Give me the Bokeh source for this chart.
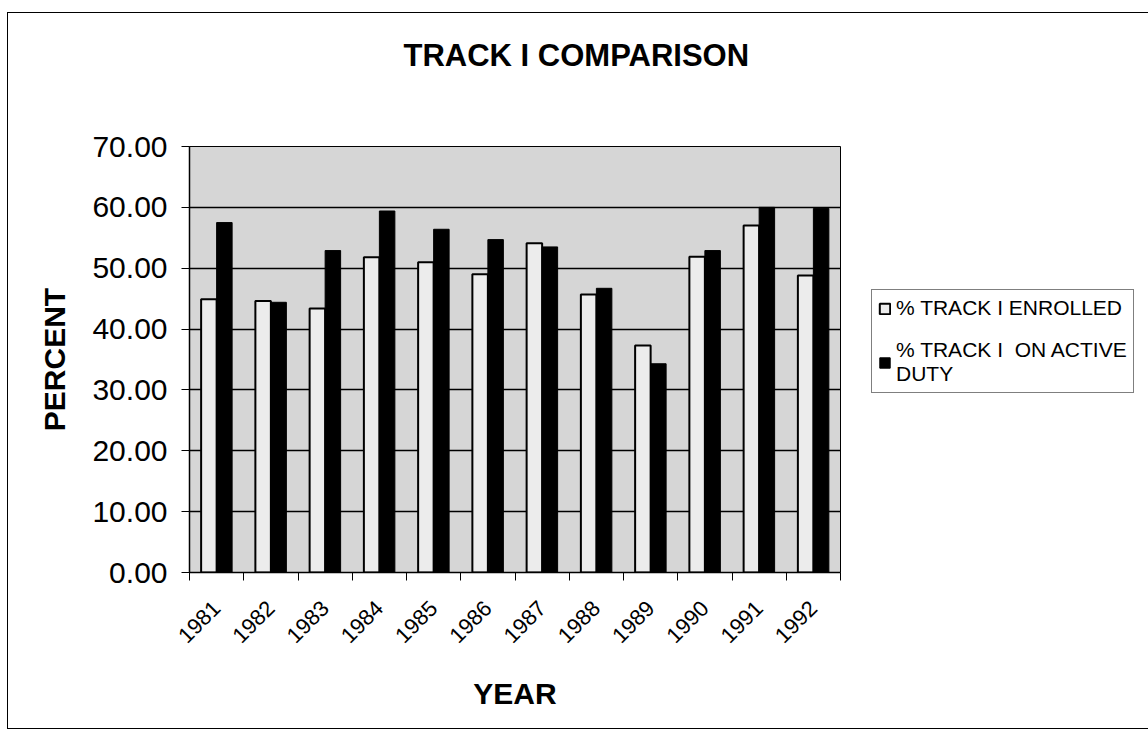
import numpy as np
from math import pi
from bokeh.plotting import figure
from bokeh.models import (ColumnDataSource, Range1d, FixedTicker, NumeralTickFormatter,
                          Legend, LegendItem, Title)
from bokeh.embed import file_html
from bokeh.resources import INLINE

# ---- data ----
years = ["1981", "1982", "1983", "1984", "1985", "1986",
         "1987", "1988", "1989", "1990", "1991", "1992"]
enrolled = [44.9, 44.6, 43.4, 51.8, 51.0, 49.0, 54.1, 45.7, 37.3, 51.9, 57.0, 48.8]
active = [57.5, 44.4, 52.9, 59.4, 56.4, 54.7, 53.5, 46.7, 34.3, 52.9, 60.0, 59.8]
y_ticks = [0, 10, 20, 30, 40, 50, 60, 70]
series_names = ["% TRACK I ENROLLED", "% TRACK I  ON ACTIVE\nDUTY"]
title_text = "TRACK I COMPARISON"
x_title = "YEAR"
y_title = "PERCENT"

FONT = "Liberation Sans"

n = len(years)
centers = [i + 0.5 for i in range(n)]
bw = 0.2857
src = ColumnDataSource(dict(
    xe=[c - bw / 2 for c in centers],
    xa=[c + bw / 2 for c in centers],
    enrolled=enrolled,
    active=active,
))

p = figure(frame_width=651, frame_height=426, x_range=Range1d(0, n), y_range=Range1d(0, 70),
           output_backend="svg", toolbar_location=None, title=None,
           min_border_left=181, min_border_right=306,
           min_border_top=132, min_border_bottom=156)
p.styles = {"margin-left": "7px", "margin-top": "12px", "border": "1px solid black"}

p.background_fill_color = "#d6d6d6"
p.border_fill_color = "white"
p.outline_line_color = "black"
p.outline_line_width = 1

r1 = p.vbar(x="xe", top="enrolled", width=bw, source=src,
            fill_color="#ececec", line_color="black", line_width=2)
r2 = p.vbar(x="xa", top="active", width=bw, source=src,
            fill_color="black", line_color="black", line_width=1)

# x axis
xa = p.xaxis[0]
xa.ticker = FixedTicker(ticks=centers, minor_ticks=list(range(n + 1)))
xa.major_label_overrides = {c: y for c, y in zip(centers, years)}
xa.major_tick_out = 0
xa.major_tick_in = 0
xa.minor_tick_out = 8
xa.minor_tick_in = 0
xa.minor_tick_line_color = "black"
xa.axis_line_color = "black"
xa.axis_line_width = 1.5
xa.major_label_orientation = pi / 4
xa.major_label_text_font = FONT
xa.major_label_text_font_size = "22px"
xa.major_label_text_color = "black"
xa.major_label_standoff = 24
xa.axis_label = x_title
xa.axis_label_text_font = FONT
xa.axis_label_text_font_size = "30px"
xa.axis_label_text_font_style = "bold"
xa.axis_label_text_color = "black"
xa.axis_label_standoff = 24

# y axis
ya = p.yaxis[0]
ya.ticker = FixedTicker(ticks=y_ticks)
ya.formatter = NumeralTickFormatter(format="0.00")
ya.major_tick_out = 8
ya.major_tick_in = 0
ya.minor_tick_out = 0
ya.minor_tick_in = 0
ya.major_tick_line_color = "black"
ya.axis_line_color = "black"
ya.axis_line_width = 1.5
ya.major_label_text_font = FONT
ya.major_label_text_font_size = "30px"
ya.major_label_text_color = "black"
ya.major_label_standoff = 14
ya.axis_label = y_title
ya.axis_label_text_font = FONT
ya.axis_label_text_font_size = "30px"
ya.axis_label_text_font_style = "bold"
ya.axis_label_text_color = "black"
ya.axis_label_standoff = 18

p.xgrid.visible = False
p.ygrid.ticker = FixedTicker(ticks=y_ticks)
p.ygrid.grid_line_color = "black"
p.ygrid.grid_line_width = 1.5

# spacer between the frame and the title (added first => closest to frame)
spacer = Title(text=" ", text_font_size="10px", standoff=38, text_color="white")
p.add_layout(spacer, "above")
title = Title(text=title_text, align="left", offset=214, standoff=45,
              text_font=FONT, text_font_size="31px", text_font_style="bold",
              text_color="black")
p.add_layout(title, "above")

legend = Legend(items=[LegendItem(label=series_names[0], renderers=[r1]),
                       LegendItem(label=series_names[1], renderers=[r2])],
                location=(31, 179), orientation="vertical",
                border_line_color="black", border_line_width=1,
                background_fill_color="white", background_fill_alpha=1,
                label_text_font=FONT, label_text_font_size="21px",
                label_text_color="black",
                glyph_width=13, glyph_height=13, label_standoff=5,
                padding=6, spacing=18, margin=0)
p.add_layout(legend, "right")

open("out.html", "w").write(file_html(p, INLINE))
